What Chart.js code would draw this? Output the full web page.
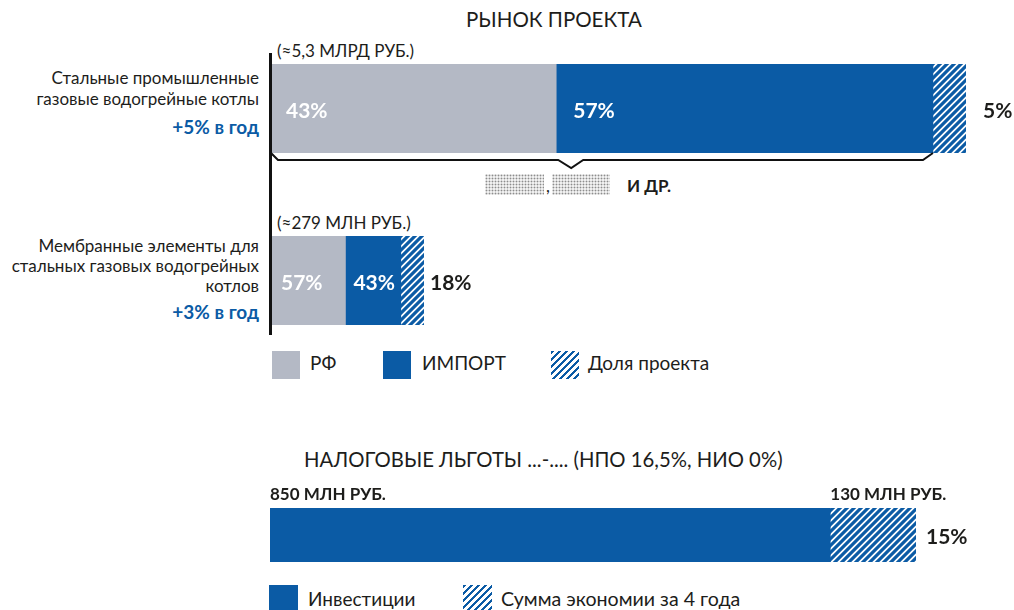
<!DOCTYPE html>
<html lang="ru">
<head>
<meta charset="utf-8">
<title>Рынок проекта</title>
<script src="https://cdn.jsdelivr.net/npm/chart.js@4"></script>
<style>
  html, body { margin: 0; padding: 0; background: #fff; }
  body { width: 1014px; height: 610px; position: relative; overflow: hidden;
         font-family: Lato, "Noto Sans", sans-serif; color: #1d1d1b; }
  .t { position: absolute; white-space: nowrap; line-height: 1; }
  .r { text-align: right; }
  .b { font-weight: 700; }
  .blue { color: #0b5ba5; }
  canvas { position: absolute; }
  .axis { position: absolute; left: 269px; top: 53px; width: 3px; height: 282px; background: #111; }
  .sw { position: absolute; width: 28px; height: 28px; }
  .hatch { background: repeating-linear-gradient(135deg, #0b5ba5 0 2.3px, #fff 2.3px 5px); }
  .dots { position: absolute; height: 21px;
          background: radial-gradient(circle, #8d8d8d 0.8px, transparent 1.1px) 0 0 / 3px 3px, #f0f0f0; }
</style>
</head>
<body>
<div class="t" style="left:466px;top:9px;font-size:20.5px;">РЫНОК ПРОЕКТА</div>

<div class="axis"></div>

<div class="t" id="size0" style="left:277px;top:42px;font-size:17px;"></div>
<div class="t r" id="name0" style="right:755px;top:67px;font-size:17px;line-height:21px;"></div>
<div class="t r b blue" id="grow0" style="right:755px;top:117px;font-size:19px;"></div>

<div class="dots" style="left:485px;top:174px;width:59px;"></div>
<div class="t" style="left:546px;top:177px;font-size:17px;">,</div>
<div class="dots" style="left:552px;top:174px;width:58px;"></div>
<div class="t b" style="left:627px;top:177px;font-size:17px;">И ДР.</div>

<div class="t" id="size1" style="left:277px;top:214px;font-size:17px;"></div>
<div class="t r" id="name1" style="right:755px;top:236px;font-size:17px;line-height:20px;"></div>
<div class="t r b blue" id="grow1" style="right:755px;top:302px;font-size:19px;"></div>

<div class="sw" style="left:272px;top:351px;background:#b4b9c5;"></div>
<div class="t" id="lg0" style="left:310px;top:353px;font-size:19px;"></div>
<div class="sw" style="left:383px;top:351px;background:#0b5ba5;"></div>
<div class="t" id="lg1" style="left:422px;top:353px;font-size:19px;"></div>
<div class="sw hatch" style="left:551px;top:351px;"></div>
<div class="t" id="lg2" style="left:588px;top:353px;font-size:19px;"></div>

<div class="t" id="taxTitle" style="left:304px;top:449px;font-size:20.3px;"></div>
<div class="sw" style="left:269px;top:585px;width:29px;height:29px;background:#0b5ba5;"></div>
<div class="t" id="lg3" style="left:308px;top:589px;font-size:19px;"></div>
<div class="sw hatch" style="left:463px;top:585px;width:29px;height:29px;"></div>
<div class="t" id="lg4" style="left:501px;top:589px;font-size:19.6px;"></div>

<canvas id="row0" width="746" height="110" style="left:268px;top:64px;"></canvas>
<canvas id="row1" width="220" height="89" style="left:268px;top:236px;"></canvas>
<canvas id="tax" width="748" height="90" style="left:266px;top:480px;"></canvas>

<script>
// market rows
var segments = ['Стальные промышленные\nгазовые водогрейные котлы',
                'Мембранные элементы для\nстальных газовых водогрейных\nкотлов'];
var growth = ['+5% в год', '+3% в год'];
var marketSize = ['(≈5,3 МЛРД РУБ.)', '(≈279 МЛН РУБ.)'];
var marketSeries = ['РФ', 'ИМПОРТ', 'Доля проекта'];
var rfShare = [43, 57];
var importShare = [57, 43];
var projectShare = [5, 18];

// tax benefits row
var taxTitle = 'НАЛОГОВЫЕ ЛЬГОТЫ ...-.... (НПО 16,5%, НИО 0%)';
var taxSeries = ['Инвестиции', 'Сумма экономии за 4 года'];
var investment = [850];
var savings = [130];
var unit = 'МЛН РУБ.';

var GRAY = '#b4b9c5';
var BLUE = '#0b5ba5';
var INK = '#1d1d1b';

function hatchPattern(color) {
  var c = document.createElement('canvas');
  c.width = 7; c.height = 7;
  var g = c.getContext('2d');
  g.strokeStyle = color;
  g.lineWidth = 3.2;
  g.beginPath();
  g.moveTo(-1, 8); g.lineTo(8, -1);
  g.moveTo(-4.5, 4.5); g.lineTo(4.5, -4.5);
  g.moveTo(2.5, 11.5); g.lineTo(11.5, 2.5);
  g.stroke();
  return g.createPattern(c, 'repeat');
}
var HATCH = hatchPattern(BLUE);

// text on/around the bar segments
var barText = {
  id: 'barText',
  afterDatasetsDraw: function(chart, args, opts) {
    var ctx = chart.ctx;
    ctx.save();
    ctx.textBaseline = 'alphabetic';
    ctx.textAlign = 'left';
    (opts.items || []).forEach(function(it) {
      var el = chart.getDatasetMeta(it.ds).data[0];
      var left = Math.min(el.base, el.x), right = Math.max(el.base, el.x);
      var top = el.y - el.height / 2;
      var x, y;
      if (it.pos === 'inside') { x = left + it.gap; y = el.y + 9; }
      else if (it.pos === 'after') { x = right + it.gap; y = el.y + 9; }
      else { x = left; y = top - it.gap; }
      ctx.font = it.font || '700 21px Lato';
      ctx.fillStyle = it.color || INK;
      ctx.fillText(it.text, x, y);
    });
    ctx.restore();
  }
};

// brace under the first market bar
var brace = {
  id: 'brace',
  afterDraw: function(chart) {
    var el0 = chart.getDatasetMeta(0).data[0];
    var x = chart.scales.x;
    var L = x.getPixelForValue(0), R = x.getPixelForValue(rfShare[0] + importShare[0]);
    var B = el0.y + el0.height / 2;
    var vx = x.getPixelForValue(rfShare[0]) + 15;
    var ctx = chart.ctx;
    ctx.save();
    ctx.strokeStyle = '#111';
    ctx.lineWidth = 2;
    ctx.beginPath();
    ctx.moveTo(L - 1, B);
    ctx.lineTo(L + 6, B + 7);
    ctx.lineTo(vx - 13, B + 7);
    ctx.lineTo(vx, B + 15);
    ctx.lineTo(vx + 12, B + 7);
    ctx.lineTo(R - 10, B + 7);
    ctx.lineTo(R, B);
    ctx.stroke();
    ctx.restore();
  }
};

function baseOptions(max, padding, items) {
  return {
    indexAxis: 'y',
    responsive: false,
    animation: false,
    events: [],
    layout: { padding: padding },
    datasets: { bar: { barPercentage: 1, categoryPercentage: 1, borderWidth: 0 } },
    scales: {
      x: { stacked: true, display: false, min: 0, max: max },
      y: { stacked: true, display: false }
    },
    plugins: { legend: { display: false }, tooltip: { enabled: false }, barText: { items: items } }
  };
}

function marketChart(id, i, padding, pad, pad2, outGap) {
  var total = rfShare[i] + importShare[i] + projectShare[i];
  var items = [
    { ds: 0, pos: 'inside', gap: pad, text: rfShare[i] + '%', color: '#fff' },
    { ds: 1, pos: 'inside', gap: pad2, text: importShare[i] + '%', color: '#fff' },
    { ds: 2, pos: 'after', gap: outGap, text: projectShare[i] + '%' }
  ];
  return new Chart(document.getElementById(id), {
    type: 'bar',
    data: {
      labels: [segments[i]],
      datasets: [
        { label: marketSeries[0], data: [rfShare[i]], backgroundColor: GRAY },
        { label: marketSeries[1], data: [importShare[i]], backgroundColor: BLUE },
        { label: marketSeries[2], data: [projectShare[i]], backgroundColor: HATCH }
      ]
    },
    options: baseOptions(total, padding, items),
    plugins: i === 0 ? [barText, brace] : [barText]
  });
}

marketChart('row0', 0, { left: 4, right: 48, top: 0, bottom: 21 }, 14, 17, 17);
marketChart('row1', 1, { left: 4, right: 64, top: 0, bottom: 0 }, 9, 8, 6);

var pct = Math.round(savings[0] / investment[0] * 100);
new Chart(document.getElementById('tax'), {
  type: 'bar',
  data: {
    labels: [taxTitle],
    datasets: [
      { label: taxSeries[0], data: investment, backgroundColor: BLUE },
      { label: taxSeries[1], data: savings, backgroundColor: HATCH }
    ]
  },
  options: baseOptions(investment[0] + savings[0], { left: 4, right: 98, top: 28, bottom: 8 }, [
    { ds: 0, pos: 'above', gap: 8, text: investment[0] + ' ' + unit, font: '700 17px Lato' },
    { ds: 1, pos: 'above', gap: 8, text: savings[0] + ' ' + unit, font: '700 17px Lato' },
    { ds: 1, pos: 'after', gap: 10, text: pct + '%' }
  ]),
  plugins: [barText]
});

// side texts and legends
for (var i = 0; i < 2; i++) {
  document.getElementById('size' + i).textContent = marketSize[i];
  document.getElementById('name' + i).innerHTML = segments[i].split('\n').join('<br>');
  document.getElementById('grow' + i).textContent = growth[i];
}
marketSeries.forEach(function(s, k) { document.getElementById('lg' + k).textContent = s; });
taxSeries.forEach(function(s, k) { document.getElementById('lg' + (k + 3)).textContent = s; });
document.getElementById('taxTitle').textContent = taxTitle;
</script>
</body>
</html>
